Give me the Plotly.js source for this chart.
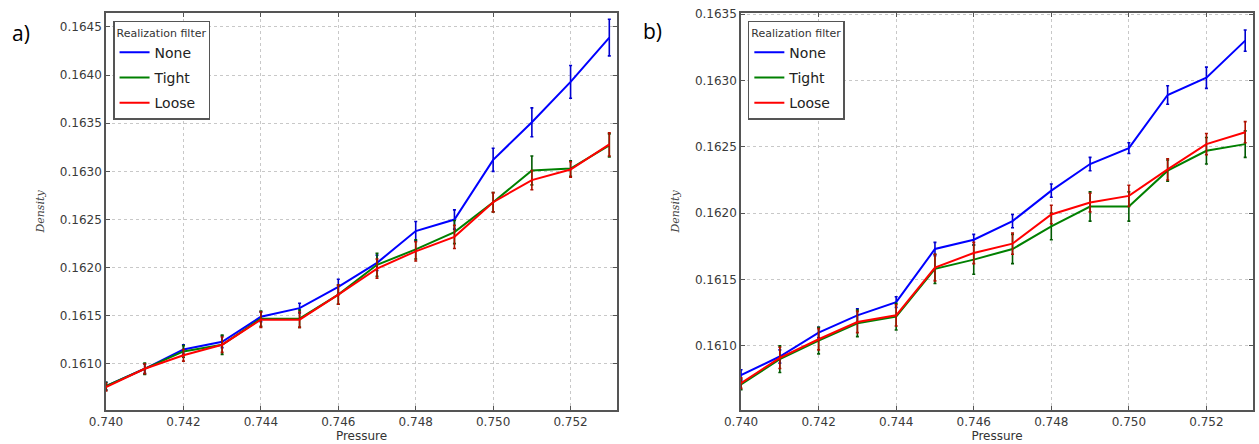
<!DOCTYPE html>
<html>
<head>
<meta charset="utf-8">
<script src="https://cdn.plot.ly/plotly-3.0.1.min.js"></script>
<style>
  html, body { margin: 0; padding: 0; background: #ffffff; }
  #chart { width: 1259px; height: 444px; }
</style>
</head>
<body>
<div id="chart"></div>
<script>
// Pressure values shared by both panels
const pressure = [0.740, 0.741, 0.742, 0.743, 0.744, 0.745, 0.746, 0.747, 0.748, 0.749, 0.750, 0.751, 0.752, 0.753];

// Panel a) mean density and error per realization filter
const noneA   = [0.16077, 0.16095, 0.16115, 0.16123, 0.16149, 0.16158, 0.16180, 0.16205, 0.16238, 0.16250, 0.16312, 0.16351, 0.16393, 0.16439];
const noneErrA  = [0.00004, 0.00005, 0.00005, 0.00006, 0.00005, 0.00005, 0.00008, 0.00008, 0.00010, 0.00010, 0.00012, 0.00015, 0.00017, 0.00019];
const tightA  = [0.16077, 0.16095, 0.16113, 0.16120, 0.16147, 0.16147, 0.16172, 0.16203, 0.16219, 0.16237, 0.16268, 0.16301, 0.16303, 0.16327];
const tightErrA = [0.00004, 0.00006, 0.00006, 0.00010, 0.00008, 0.00009, 0.00010, 0.00012, 0.00010, 0.00012, 0.00010, 0.00015, 0.00008, 0.00012];
const looseA  = [0.16076, 0.16095, 0.16109, 0.16120, 0.16146, 0.16146, 0.16172, 0.16199, 0.16217, 0.16232, 0.16268, 0.16291, 0.16302, 0.16328];
const looseErrA = [0.00004, 0.00005, 0.00006, 0.00008, 0.00008, 0.00008, 0.00010, 0.00010, 0.00010, 0.00012, 0.00010, 0.00010, 0.00008, 0.00012];

// Panel b) mean density and error per realization filter
const noneB   = [0.16078, 0.16092, 0.16110, 0.16123, 0.16133, 0.16173, 0.16180, 0.16194, 0.16217, 0.16237, 0.16249, 0.16289, 0.16302, 0.16330];
const noneErrB  = [0.00004, 0.00005, 0.00004, 0.00005, 0.00004, 0.00005, 0.00004, 0.00005, 0.00005, 0.00005, 0.00004, 0.00007, 0.00008, 0.00008];
const tightB  = [0.16071, 0.16090, 0.16104, 0.16117, 0.16122, 0.16158, 0.16165, 0.16173, 0.16190, 0.16205, 0.16205, 0.16232, 0.16247, 0.16252];
const tightErrB = [0.00004, 0.00010, 0.00010, 0.00010, 0.00010, 0.00011, 0.00011, 0.00011, 0.00010, 0.00011, 0.00011, 0.00008, 0.00010, 0.00010];
const looseB  = [0.16072, 0.16091, 0.16105, 0.16118, 0.16123, 0.16159, 0.16170, 0.16177, 0.16199, 0.16208, 0.16213, 0.16233, 0.16252, 0.16261];
const looseErrB = [0.00004, 0.00008, 0.00008, 0.00008, 0.00008, 0.00010, 0.00008, 0.00008, 0.00007, 0.00007, 0.00008, 0.00008, 0.00008, 0.00008];

const filterNames = ['None', 'Tight', 'Loose'];
const lineColors  = ['#0000ff', '#008000', '#ff0000'];
const barColors   = ['#0000d0', '#005a00', '#b01000'];

function series(y, err, k, xa, ya, legendId) {
  return {
    type: 'scatter', mode: 'lines',
    x: pressure, y: y,
    name: filterNames[k],
    xaxis: xa, yaxis: ya,
    legend: legendId,
    legendgroup: legendId + '-' + k,
    line: { color: lineColors[k], width: 2 },
    error_y: { type: 'data', array: err, visible: true, color: barColors[k], thickness: 1.6, width: 1.5 },
    hoverinfo: 'x+y+name'
  };
}

const data = [
  series(noneA,  noneErrA,  0, 'x',  'y',  'legend'),
  series(tightA, tightErrA, 1, 'x',  'y',  'legend'),
  series(looseA, looseErrA, 2, 'x',  'y',  'legend'),
  series(noneB,  noneErrB,  0, 'x2', 'y2', 'legend2'),
  series(tightB, tightErrB, 1, 'x2', 'y2', 'legend2'),
  series(looseB, looseErrB, 2, 'x2', 'y2', 'legend2')
];

const tickFont = { family: 'DejaVu Sans', size: 12, color: '#3a3a3a' };
const frame = {
  showline: true, linecolor: '#555555', linewidth: 1.5, mirror: 'ticks',
  ticks: 'inside', ticklen: 4, tickcolor: '#555555', tickwidth: 1,
  showgrid: true, gridcolor: '#c8c8c8', gridwidth: 1, griddash: 'dot',
  zeroline: false, automargin: false, tickfont: tickFont
};

function xAxis(domain, anchor) {
  return Object.assign({}, frame, {
    domain: domain, anchor: anchor,
    range: [0.740, 0.7532], tick0: 0.740, dtick: 0.002, tickformat: '.3f',
    title: { text: 'Pressure', font: { family: 'DejaVu Sans', size: 12, color: '#333333' }, standoff: 2 }
  });
}
function yAxis(domain, anchor, range) {
  return Object.assign({}, frame, {
    domain: domain, anchor: anchor,
    range: range, dtick: 0.0005, tickformat: '.4f',
    title: { text: '<i>Density</i>', font: { family: 'DejaVu Serif', size: 11, color: '#444444' }, standoff: 13 }
  });
}

function legendBox(xPos) {
  return {
    x: xPos, y: 0.953, xanchor: 'left', yanchor: 'top',
    bgcolor: '#ffffff', bordercolor: '#555555', borderwidth: 1.5,
    font: { family: 'DejaVu Sans', size: 14, color: '#222222' },
    title: { text: 'Realization filter', side: 'top', font: { family: 'DejaVu Sans', size: 11, color: '#333333' } },
    itemwidth: 30,
    tracegroupgap: 4
  };
}

const yDomain = [0.0766, 0.9707];
const layout = {
  width: 1259, height: 444,
  margin: { l: 0, r: 0, t: 0, b: 0 },
  paper_bgcolor: '#ffffff', plot_bgcolor: '#ffffff',
  showlegend: true,
  xaxis:  xAxis([0.0842, 0.4901], 'y'),
  yaxis:  yAxis(yDomain, 'x', [0.160522, 0.164645]),
  xaxis2: xAxis([0.5886, 0.9952], 'y2'),
  yaxis2: yAxis(yDomain, 'x2', [0.160517, 0.163508]),
  legend:  legendBox(0.0898),
  legend2: legendBox(0.5940),
  annotations: [
    { text: 'a)', xref: 'paper', yref: 'paper', x: 0.008, y: 0.925, xanchor: 'left', yanchor: 'middle',
      showarrow: false, font: { family: 'Open Sans', size: 21, color: '#000000' } },
    { text: 'b)', xref: 'paper', yref: 'paper', x: 0.5095, y: 0.93, xanchor: 'left', yanchor: 'middle',
      showarrow: false, font: { family: 'Open Sans', size: 21, color: '#000000' } }
  ]
};

Plotly.newPlot('chart', data, layout, { displayModeBar: false, staticPlot: false });
</script>
</body>
</html>
